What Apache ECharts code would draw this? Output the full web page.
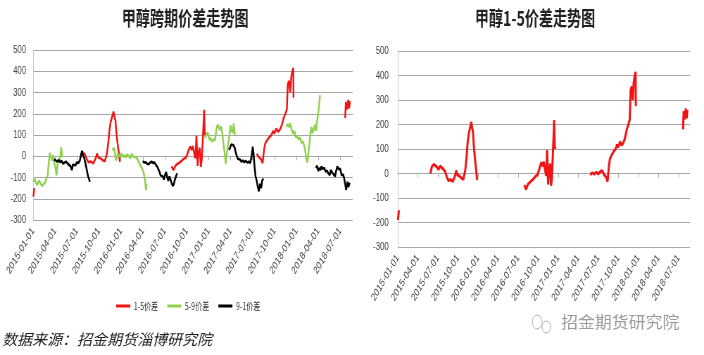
<!DOCTYPE html>
<html>
<head>
<meta charset="utf-8">
<script src="https://cdn.jsdelivr.net/npm/echarts@6/dist/echarts.min.js"></script>
<style>
    html, body { margin: 0; padding: 0; background: #fff; overflow: hidden; }
    #wrap { width: 704px; height: 355px; overflow: hidden; }
    /* 原图横向被压缩过，这里用宽画布再横向缩放 */
    #main { width: 1000px; height: 355px; transform: scaleX(0.704); transform-origin: 0 0; }
</style>
</head>
<body>
<div id="wrap"><div id="main"></div></div>
<script>
// 季度刻度
var quarterTicks = ['2015-01-01','2015-04-01','2015-07-01','2015-10-01','2016-01-01','2016-04-01','2016-07-01',
    '2016-10-01','2017-01-01','2017-04-01','2017-07-01','2017-10-01','2018-01-01','2018-04-01','2018-07-01'];
var axisMin = '2015-01-01', axisMax = '2018-08-23';

// 1-5价差 (null 断开)
var redDates = ['2015-01-02','2015-01-06','2015-01-10',
    '2015-05-28','2015-06-04','2015-06-13','2015-06-25','2015-07-04','2015-07-11','2015-07-23','2015-08-04','2015-08-11',
    '2015-08-19','2015-08-29','2015-09-08','2015-09-19','2015-09-23','2015-09-29','2015-10-08','2015-10-19','2015-10-26',
    '2015-11-04','2015-11-10','2015-11-14','2015-11-19','2015-11-25','2015-12-01','2015-12-04','2015-12-09','2015-12-13',
    '2015-12-18','2015-12-24','2015-12-28','2016-01-05',
    '2016-07-30','2016-08-07','2016-08-15','2016-08-22','2016-09-01','2016-09-10','2016-09-19','2016-09-28','2016-10-04',
    '2016-10-10','2016-10-16','2016-10-22','2016-10-27','2016-11-01','2016-11-07','2016-11-11','2016-11-16','2016-11-20',
    '2016-11-25','2016-11-29','2016-12-03','2016-12-07','2016-12-10','2016-12-13','2016-12-16','2016-12-19','2016-12-28',
    '2017-05-25','2017-06-04','2017-06-13','2017-06-22','2017-07-01','2017-07-10','2017-07-19','2017-07-28','2017-08-07',
    '2017-08-13','2017-08-19','2017-08-24','2017-09-01','2017-09-10','2017-09-19','2017-09-25','2017-10-01','2017-10-09',
    '2017-10-16','2017-10-24','2017-11-01','2017-11-09','2017-11-16','2017-11-22','2017-11-26','2017-12-01','2017-12-06',
    '2017-12-10','2017-12-14','2017-12-19','2017-12-20','2017-12-28',
    '2018-07-22','2018-07-25','2018-07-29','2018-08-04','2018-08-08','2018-08-11'];
var redValues = [-190,-150,null,
    0,28,37,28,17,30,21,8,-13,
    -29,-25,-33,-6,12,-6,-10,-20,-24,
    14,70,120,160,185,210,190,170,110,
    60,10,-27,null,
    -47,-65,-45,-38,-30,-22,-12,-5,10,
    30,45,30,48,20,-10,96,-45,20,
    40,-50,-15,70,140,218,100,110,null,
    -5,3,-3,5,-2,8,12,-5,-15,
    -33,30,60,75,90,100,118,108,130,
    115,125,145,180,200,220,340,355,300,
    370,395,415,275,null,
    180,255,220,265,225,260];
// 左图中1-5价差未显示的时段
var leftRedHidden = [['2015-05-20','2015-07-20'], ['2017-05-20','2017-07-15']];

// 5-9价差
var greenDates = ['2015-01-02','2015-01-07','2015-01-13','2015-01-19','2015-01-25','2015-02-01','2015-02-07','2015-02-12',
    '2015-02-18','2015-02-23','2015-03-01','2015-03-06','2015-03-10','2015-03-15','2015-03-19','2015-03-24','2015-03-28',
    '2015-04-02','2015-04-07','2015-04-11','2015-04-16','2015-04-22','2015-04-26','2015-05-01','2015-05-08',
    '2015-11-27','2015-12-01','2015-12-04','2015-12-09','2015-12-13','2015-12-18','2015-12-22','2015-12-28','2016-01-04',
    '2016-01-10','2016-01-16','2016-01-22','2016-01-28','2016-02-04','2016-02-10','2016-02-15','2016-02-21','2016-02-26',
    '2016-03-04','2016-03-10','2016-03-16','2016-03-22','2016-03-28','2016-04-04','2016-04-10','2016-04-14','2016-04-17',
    '2016-04-25',
    '2016-12-16','2016-12-22','2016-12-28','2017-01-04','2017-01-10','2017-01-16','2017-01-22','2017-01-28','2017-02-04',
    '2017-02-09','2017-02-15','2017-02-21','2017-02-25','2017-03-01','2017-03-07','2017-03-12','2017-03-16','2017-03-21',
    '2017-03-27','2017-04-01','2017-04-05','2017-04-10','2017-04-14','2017-04-19','2017-04-28',
    '2017-11-19','2017-11-25','2017-12-01','2017-12-06','2017-12-12','2017-12-18','2017-12-24','2017-12-30','2018-01-05',
    '2018-01-11','2018-01-17','2018-01-23','2018-01-29','2018-02-05','2018-02-11','2018-02-15','2018-02-19','2018-02-23',
    '2018-02-27','2018-03-03','2018-03-07','2018-03-12','2018-03-18','2018-03-22','2018-03-27','2018-04-01','2018-04-05',
    '2018-04-08'];
var greenValues = [-120,-105,-125,-135,-115,-125,-140,-138,
    -125,-130,-90,-20,15,-5,-20,5,-30,
    -50,-90,-40,-15,-10,42,-5,null,
    38,28,40,-5,-20,10,15,0,12,
    -3,5,-5,8,2,-10,12,-2,5,
    -5,-15,-30,-45,-55,-75,-110,-160,-130,
    null,
    85,100,112,78,85,68,80,75,135,
    148,125,140,110,70,15,-35,10,50,
    95,145,120,110,155,100,null,
    140,150,138,155,125,108,118,88,95,
    78,88,62,70,40,-5,-30,10,60,
    110,138,108,125,148,120,165,205,245,
    288];

// 9-1价差
var blackDates = ['2015-03-28','2015-04-04','2015-04-10','2015-04-16','2015-04-22','2015-04-28','2015-05-04','2015-05-10',
    '2015-05-16','2015-05-22','2015-05-28','2015-06-04','2015-06-10','2015-06-14','2015-06-19','2015-06-25','2015-07-01',
    '2015-07-07','2015-07-13','2015-07-17','2015-07-22','2015-07-26','2015-08-01','2015-08-06','2015-08-10','2015-08-15',
    '2015-08-19','2015-08-25','2015-09-02',
    '2016-04-01','2016-04-07','2016-04-13','2016-04-19','2016-04-25','2016-05-01','2016-05-07','2016-05-13','2016-05-19',
    '2016-05-25','2016-06-01','2016-06-05','2016-06-10','2016-06-14','2016-06-19','2016-06-23','2016-06-28','2016-07-03',
    '2016-07-07','2016-07-12','2016-07-16','2016-07-21','2016-07-25','2016-07-30','2016-08-04','2016-08-09','2016-08-13',
    '2016-08-18','2016-08-22','2016-09-01',
    '2017-03-25','2017-03-30','2017-04-04','2017-04-08','2017-04-13','2017-04-18','2017-04-22','2017-04-27','2017-05-01',
    '2017-05-06','2017-05-10','2017-05-16','2017-05-22','2017-05-28','2017-06-04','2017-06-10','2017-06-16','2017-06-22',
    '2017-06-28','2017-07-02','2017-07-05','2017-07-10','2017-07-14','2017-07-19','2017-07-23','2017-07-28','2017-08-02',
    '2017-08-07','2017-08-11','2017-08-16','2017-08-25',
    '2018-03-22','2018-03-27','2018-04-01','2018-04-05','2018-04-10','2018-04-14','2018-04-19','2018-04-25','2018-05-01',
    '2018-05-07','2018-05-13','2018-05-19','2018-05-23','2018-05-28','2018-06-04','2018-06-10','2018-06-14','2018-06-19',
    '2018-06-25','2018-07-01','2018-07-07','2018-07-13','2018-07-17','2018-07-22','2018-07-26','2018-08-01','2018-08-05',
    '2018-08-10'];
var blackValues = [-15,-20,-25,-18,-28,-22,-35,-30,
    -25,-32,-40,-45,-65,-40,-35,-42,-28,
    -32,-20,-12,25,5,-10,-35,-55,-85,
    -100,-120,null,
    -22,-30,-28,-35,-38,-30,-25,-32,-28,
    -40,-50,-58,-75,-90,-82,-95,-110,-85,
    -75,-100,-115,-95,-100,-125,-140,-130,-110,
    -95,-80,null,
    30,40,55,62,52,40,20,0,-12,
    -20,-15,-25,-20,-28,-22,-30,-25,-32,
    5,45,20,-50,-95,-115,-140,-165,-130,
    -150,-115,-105,null,
    -55,-45,-70,-55,-65,-48,-60,-55,-72,
    -68,-82,-88,-65,-75,-85,-95,-70,-48,
    -62,-58,-90,-85,-100,-130,-158,-120,-145,
    -125];

var names = ['1-5价差', '5-9价差', '9-1价差'];
var colors = ['#f01414', '#92d050', '#000000'];

// 日期 -> 自2015-01起的月数（横轴按月线性）
function toMonth(s) {
    var p = s.split('-');
    var y = +p[0], m = +p[1], d = +p[2];
    var dim = new Date(y, m, 0).getDate();
    return (y - 2015) * 12 + (m - 1) + (d - 1) / dim;
}
function monthLabel(v) {
    var k = Math.round(v);
    var y = 2015 + Math.floor(k / 12), m = k % 12 + 1;
    return y + '-' + (m < 10 ? '0' + m : m) + '-01';
}

function pairs(dates, values, hidden) {
    var out = [];
    for (var i = 0; i < dates.length; i++) {
        var v = values[i];
        if (hidden) {
            for (var j = 0; j < hidden.length; j++) {
                if (dates[i] >= hidden[j][0] && dates[i] <= hidden[j][1]) v = null;
            }
        }
        out.push([toMonth(dates[i]), v == null ? '-' : v]);
    }
    return out;
}

var tickValues = quarterTicks.map(toMonth);
var xMin = toMonth(axisMin), xMax = toMonth(axisMax);
var labelFont = '"Liberation Sans", Arial, sans-serif';
var gridColor = '#a6a6a6';

function makeXAxes(gi) {
    return [{
        type: 'value', gridIndex: gi, min: xMin, max: xMax, position: 'bottom',
        axisLine: {show: false, onZero: false},
        axisTick: {show: false},
        splitLine: {show: false},
        axisLabel: {
            customValues: tickValues, rotate: 51, margin: 9, fontSize: 11,
            color: '#404040', fontFamily: labelFont, formatter: monthLabel
        }
    }, {
        type: 'value', gridIndex: gi, min: xMin, max: xMax, position: 'top',
        axisLine: {show: true, onZero: true, lineStyle: {color: gridColor}},
        axisTick: {show: true, inside: true, length: 4, customValues: tickValues, lineStyle: {color: gridColor}},
        axisLabel: {show: false},
        splitLine: {show: false}
    }];
}

function makeYAxis(gi, margin) {
    return {
        type: 'value', gridIndex: gi, min: -300, max: 500, interval: 100,
        axisLine: {show: true, onZero: false, lineStyle: {color: '#c8c8c8'}},
        axisTick: {show: false},
        splitLine: {lineStyle: {color: gridColor}},
        axisLabel: {fontSize: 11, color: '#404040', fontFamily: labelFont, margin: margin}
    };
}

function line(name, data, color, xi, yi, w) {
    return {
        name: name, type: 'line', data: data, xAxisIndex: xi, yAxisIndex: yi,
        showSymbol: false, symbol: 'none', connectNulls: false,
        lineStyle: {color: color, width: w}, itemStyle: {color: color}
    };
}

var myChart = echarts.init(document.getElementById('main'));

var titleStyle = {fontSize: 20, fontWeight: 'bold', fontFamily: '"Noto Sans CJK SC"', fill: '#222', textAlign: 'center'};

var option = {
    animation: false,
    grid: [
        {left: 47, right: 499, top: 50, bottom: 135},
        {left: 565, right: 20, top: 51, bottom: 108}
    ],
    xAxis: makeXAxes(0).concat(makeXAxes(1)),
    yAxis: [makeYAxis(0, 10), makeYAxis(1, 13)],
    legend: {
        data: names, left: 160, top: 296, icon: 'rect', itemWidth: 20, itemHeight: 3, itemGap: 13,
        textStyle: {fontSize: 10, color: '#333', fontFamily: '"Noto Sans CJK SC"'}
    },
    series: [
        line(names[0], pairs(redDates, redValues, leftRedHidden), colors[0], 0, 0, 2.5),
        line(names[1], pairs(greenDates, greenValues), colors[1], 0, 0, 2.5),
        line(names[2], pairs(blackDates, blackValues), colors[2], 0, 0, 2.5),
        line(names[0], pairs(redDates, redValues), colors[0], 2, 1, 3)
    ],
    graphic: [
        {type: 'text', x: 263, y: 8, style: Object.assign({text: '甲醇跨期价差走势图'}, titleStyle)},
        {type: 'text', x: 760, y: 8, style: Object.assign({text: '甲醇1-5价差走势图'}, titleStyle)},
        {type: 'text', x: 3, y: 332, scaleX: 1.42,
            style: {text: '数据来源：招金期货淄博研究院', fontSize: 15, fontStyle: 'italic',
                fontFamily: '"Noto Sans CJK SC"', fill: '#222'}},
        {type: 'circle', shape: {cx: 763, cy: 322, r: 7}, style: {fill: 'none', stroke: '#aaa', lineWidth: 1}},
        {type: 'circle', shape: {cx: 776, cy: 327, r: 6}, style: {fill: '#fff', stroke: '#aaa', lineWidth: 1}},
        {type: 'text', x: 797, y: 314, scaleX: 1.5,
            style: {text: '招金期货研究院', fontSize: 16, fontFamily: '"Noto Sans CJK SC"', fill: '#9a9a9a'}}
    ]
};

myChart.setOption(option);
</script>
</body>
</html>
